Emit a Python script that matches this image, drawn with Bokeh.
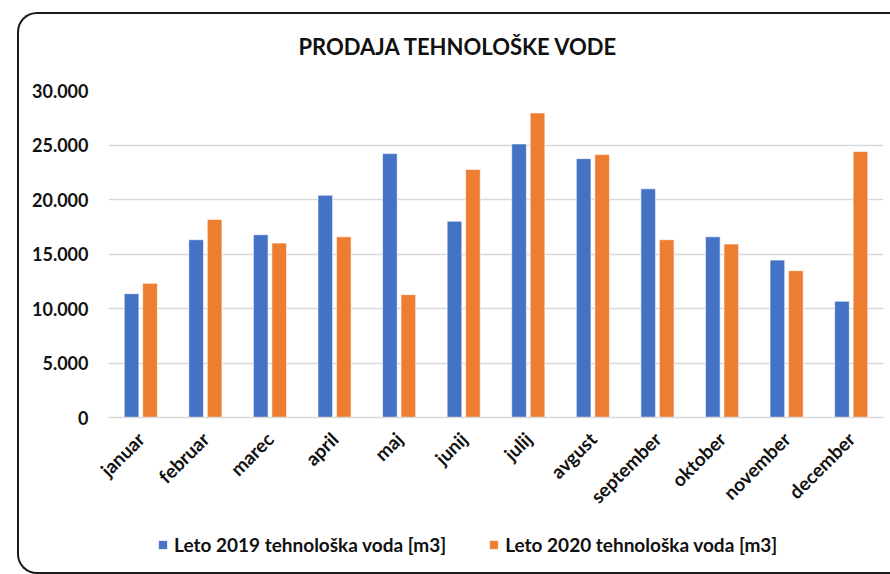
from bokeh.plotting import figure
from bokeh.layouts import column
from bokeh.models import (ColumnDataSource, FactorRange, Range1d, FixedTicker,
                          Legend, LegendItem, InlineStyleSheet)
from bokeh.transform import dodge
from bokeh.embed import file_html
from bokeh.resources import INLINE
import math

# ---- data ----
months = ["januar", "februar", "marec", "april", "maj", "junij",
          "julij", "avgust", "september", "oktober", "november", "december"]
v2019 = [11360, 16310, 16770, 20390, 24210, 18010,
         25100, 23750, 20980, 16580, 14440, 10660]
v2020 = [12310, 18170, 16000, 16580, 11270, 22750,
         27940, 24120, 16310, 15910, 13470, 24400]
series_names = ["Leto 2019 tehnološka voda [m3]", "Leto 2020 tehnološka voda [m3]"]
y_ticks = [0, 5000, 10000, 15000, 20000, 25000, 30000]
y_tick_labels = ["0", "5.000", "10.000", "15.000", "20.000", "25.000", "30.000"]
title_text = "PRODAJA TEHNOLOŠKE VODE"

BLUE = "#4472C4"
ORANGE = "#ED7D31"
FONT = "Lato"
TXT = "#111111"
BAR_W = 0.227
DODGE = 0.143

src = ColumnDataSource(dict(month=months, v2019=v2019, v2020=v2020))

# ---------------- main chart ----------------
p = figure(width=890, height=520,
           x_range=FactorRange(factors=months, range_padding=0),
           y_range=Range1d(0, 30000),
           output_backend="svg", toolbar_location=None,
           min_border_left=108, min_border_right=7,
           min_border_top=90, min_border_bottom=103)
p.outline_line_color = None
p.background_fill_color = "white"
p.border_fill_color = "white"

bar_style = dict(line_color="white", line_alpha=0.6, line_width=1)
r1 = p.vbar(x=dodge("month", -DODGE, range=p.x_range), top="v2019", width=BAR_W,
            source=src, fill_color=BLUE, **bar_style)
r2 = p.vbar(x=dodge("month", DODGE, range=p.x_range), top="v2020", width=BAR_W,
            source=src, fill_color=ORANGE, **bar_style)

# title
p.title.text = title_text
p.title.align = "left"
p.title.offset = 190
p.title.standoff = 61
p.title.text_font = FONT
p.title.text_font_style = "bold"
p.title.text_font_size = "22px"
p.title.text_color = TXT

# y axis
p.yaxis.ticker = FixedTicker(ticks=y_ticks)
p.yaxis.major_label_overrides = {t: l for t, l in zip(y_ticks, y_tick_labels)}
p.yaxis.axis_line_color = None
p.yaxis.major_tick_line_color = None
p.yaxis.minor_tick_line_color = None
p.yaxis.major_tick_out = 0
p.yaxis.major_tick_in = 0
p.yaxis.major_label_standoff = 20
p.yaxis.major_label_text_font = FONT
p.yaxis.major_label_text_font_style = "bold"
p.yaxis.major_label_text_font_size = "18px"
p.yaxis.major_label_text_color = TXT

# x axis
p.xaxis.axis_line_color = "#d9d9d9"
p.xaxis.axis_line_width = 1.5
p.xaxis.major_tick_line_color = None
p.xaxis.minor_tick_line_color = None
p.xaxis.major_tick_out = 0
p.xaxis.major_tick_in = 0
p.xaxis.major_label_orientation = math.pi / 4
p.xaxis.major_label_standoff = 18
p.xaxis.major_label_text_font = FONT
p.xaxis.major_label_text_font_style = "bold"
p.xaxis.major_label_text_font_size = "19px"
p.xaxis.major_label_text_color = TXT

p.xgrid.grid_line_color = None
p.ygrid.grid_line_color = "#d9d9d9"
p.ygrid.grid_line_width = 1.5

# ---------------- legend strip ----------------
# Same series as hidden renderers in a strip below; only their legend entries show.
lg = figure(width=890, height=54, output_backend="svg", toolbar_location=None,
            x_range=FactorRange(factors=months, range_padding=0),
            y_range=Range1d(-2, -1),
            x_axis_location=None, y_axis_location=None, min_border=0)
lg.outline_line_color = None
lg.grid.grid_line_color = None
lg.background_fill_color = "white"
lg.border_fill_color = "white"
k1 = lg.vbar(x=dodge("month", -DODGE, range=lg.x_range), top="v2019", bottom="v2019",
             width=BAR_W, source=src, fill_color=BLUE, **bar_style)
k2 = lg.vbar(x=dodge("month", DODGE, range=lg.x_range), top="v2020", bottom="v2020",
             width=BAR_W, source=src, fill_color=ORANGE, **bar_style)
k1.visible = False
k2.visible = False

legend = Legend(items=[LegendItem(label=series_names[0], renderers=[k1]),
                       LegendItem(label=series_names[1], renderers=[k2])],
                orientation="horizontal", location=(49, 18),
                padding=0, margin=0, border_line_alpha=0, background_fill_alpha=0,
                glyph_width=11, glyph_height=11, label_height=11,
                label_standoff=6, spacing=42,
                inactive_fill_alpha=0,
                label_text_font=FONT, label_text_font_style="bold",
                label_text_font_size="19px", label_text_color=TXT)
lg.add_layout(legend, "center")

# rounded chart border (cut off at the right edge like the reference)
border_css = InlineStyleSheet(css="""
:host::after {
  content: "";
  position: absolute;
  left: 17px; top: 12px; width: 873px; height: 562px;
  box-sizing: border-box;
  border: 2px solid #1a1a1a; border-right: none;
  border-radius: 20px 0 0 20px;
  pointer-events: none;
}
""")
layout = column(p, lg, spacing=0, stylesheets=[border_css])

open("out.html", "w").write(file_html(layout, INLINE))
